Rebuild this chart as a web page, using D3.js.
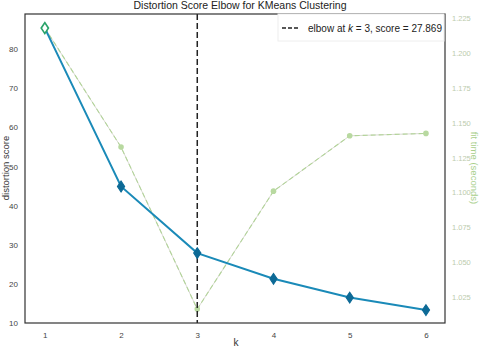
<!DOCTYPE html>
<html>
<head>
<meta charset="utf-8">
<script src="https://cdn.jsdelivr.net/npm/d3@7"></script>
<style>
  body { margin: 0; background: #fff; }
  svg { display: block; font-family: "Liberation Sans", Arial, sans-serif; }
</style>
</head>
<body>
<div id="chart"></div>
<script>
// k values and the two measured series
const kValues = [1, 2, 3, 4, 5, 6];
const distortion = [85.4, 44.9, 27.869, 21.3, 16.5, 13.3];
const fitTime = [1.218, 1.1326, 1.0165, 1.101, 1.1407, 1.1424];
const scoreTicks = [10, 20, 30, 40, 50, 60, 70, 80];
const timeTicks = [1.025, 1.050, 1.075, 1.100, 1.125, 1.150, 1.175, 1.200, 1.225];
const elbowK = 3;
const elbowScore = 27.869;

const width = 480, height = 350;
const margin = { top: 14, right: 35, bottom: 27, left: 25 };

const svg = d3.select('#chart').append('svg')
    .attr('width', width)
    .attr('height', height);

const x = d3.scaleLinear()
    .domain([0.74, 6.25])
    .range([margin.left, width - margin.right]);

const y = d3.scaleLinear()
    .domain([10, 89])
    .range([height - margin.bottom, margin.top]);

const y2 = d3.scaleLinear()
    .domain([1.0065, 1.228])
    .range([height - margin.bottom, margin.top]);

// title
svg.append('text')
    .attr('x', 240)
    .attr('y', 9)
    .attr('text-anchor', 'middle')
    .attr('font-size', 10.5)
    .attr('fill', '#222')
    .text('Distortion Score Elbow for KMeans Clustering');

// time series (secondary axis) - thin grey line under dashed green
const timeLine = d3.line()
    .x((d, i) => x(kValues[i]))
    .y(d => y2(d));

svg.append('path')
    .datum(fitTime)
    .attr('d', timeLine)
    .attr('fill', 'none')
    .attr('stroke', '#c8c8c0')
    .attr('stroke-width', 0.7);

svg.append('path')
    .datum(fitTime)
    .attr('d', timeLine)
    .attr('fill', 'none')
    .attr('stroke', '#b2d498')
    .attr('stroke-width', 1.1)
    .attr('stroke-dasharray', '5,3');

svg.append('g')
    .selectAll('circle')
    .data(fitTime)
    .join('circle')
    .attr('cx', (d, i) => x(kValues[i]))
    .attr('cy', d => y2(d))
    .attr('r', 2.8)
    .attr('fill', '#b8d9a0');

// elbow line
svg.append('line')
    .attr('x1', x(elbowK))
    .attr('x2', x(elbowK))
    .attr('y1', margin.top)
    .attr('y2', height - margin.bottom)
    .attr('stroke', '#222')
    .attr('stroke-width', 1.5)
    .attr('stroke-dasharray', '6,3');

// distortion series
const scoreLine = d3.line()
    .x((d, i) => x(kValues[i]))
    .y(d => y(d));

svg.append('path')
    .datum(distortion)
    .attr('d', scoreLine)
    .attr('fill', 'none')
    .attr('stroke', '#1a8ab8')
    .attr('stroke-width', 2);

const diamond = d3.symbol().type(d3.symbolDiamond).size(34);

svg.append('g')
    .selectAll('path')
    .data(distortion)
    .join('path')
    .attr('transform', (d, i) => `translate(${x(kValues[i])},${y(d)}) scale(1.15,1)`)
    .attr('d', diamond)
    .attr('fill', (d, i) => i === 0 ? '#fff' : '#0d6a96')
    .attr('stroke', (d, i) => i === 0 ? '#2aa36a' : '#0d6a96')
    .attr('stroke-width', (d, i) => i === 0 ? 1.5 : 1);

// frame
svg.append('rect')
    .attr('x', margin.left)
    .attr('y', margin.top)
    .attr('width', width - margin.left - margin.right)
    .attr('height', height - margin.top - margin.bottom)
    .attr('fill', 'none')
    .attr('stroke', '#333')
    .attr('stroke-width', 1.2);

// axes
const xAxis = svg.append('g')
    .attr('transform', `translate(0,${height - margin.bottom})`)
    .call(d3.axisBottom(x).tickValues(kValues).tickFormat(d3.format('d')).tickSize(0).tickPadding(9));
xAxis.select('.domain').remove();
xAxis.selectAll('text').attr('font-size', 8).attr('fill', '#444');

const yAxis = svg.append('g')
    .attr('transform', `translate(${margin.left},0)`)
    .call(d3.axisLeft(y).tickValues(scoreTicks).tickSize(0).tickPadding(7));
yAxis.select('.domain').remove();
yAxis.selectAll('text').attr('font-size', 8).attr('fill', '#444');

const y2Axis = svg.append('g')
    .attr('transform', `translate(${width - margin.right},0)`)
    .call(d3.axisRight(y2).tickValues(timeTicks).tickFormat(d3.format('.3f')).tickSize(0).tickPadding(7));
y2Axis.select('.domain').remove();
y2Axis.selectAll('text').attr('font-size', 7.5).attr('fill', '#bccbad');

// axis labels
svg.append('text')
    .attr('x', 236)
    .attr('y', 346)
    .attr('text-anchor', 'middle')
    .attr('font-size', 10)
    .attr('fill', '#333')
    .text('k');

svg.append('text')
    .attr('transform', 'translate(9,168) rotate(-90)')
    .attr('text-anchor', 'middle')
    .attr('font-size', 9.5)
    .attr('fill', '#333')
    .text('distortion score');

svg.append('text')
    .attr('transform', 'translate(471,168) rotate(90)')
    .attr('text-anchor', 'middle')
    .attr('font-size', 9.5)
    .attr('fill', '#a9cf8c')
    .text('fit time (seconds)');

// legend
const legend = svg.append('g');
legend.append('rect')
    .attr('x', 278)
    .attr('y', 14)
    .attr('width', 166)
    .attr('height', 27)
    .attr('fill', '#fff')
    .attr('stroke', '#eee');
legend.append('line')
    .attr('x1', 282)
    .attr('x2', 300)
    .attr('y1', 28)
    .attr('y2', 28)
    .attr('stroke', '#222')
    .attr('stroke-width', 1.5)
    .attr('stroke-dasharray', '4,2');
const lt = legend.append('text')
    .attr('x', 308)
    .attr('y', 32)
    .attr('font-size', 10)
    .attr('fill', '#222');
lt.append('tspan').text('elbow at ');
lt.append('tspan').attr('font-style', 'italic').text('k');
lt.append('tspan').text(` = ${elbowK}, score = ${elbowScore}`);
</script>
</body>
</html>
